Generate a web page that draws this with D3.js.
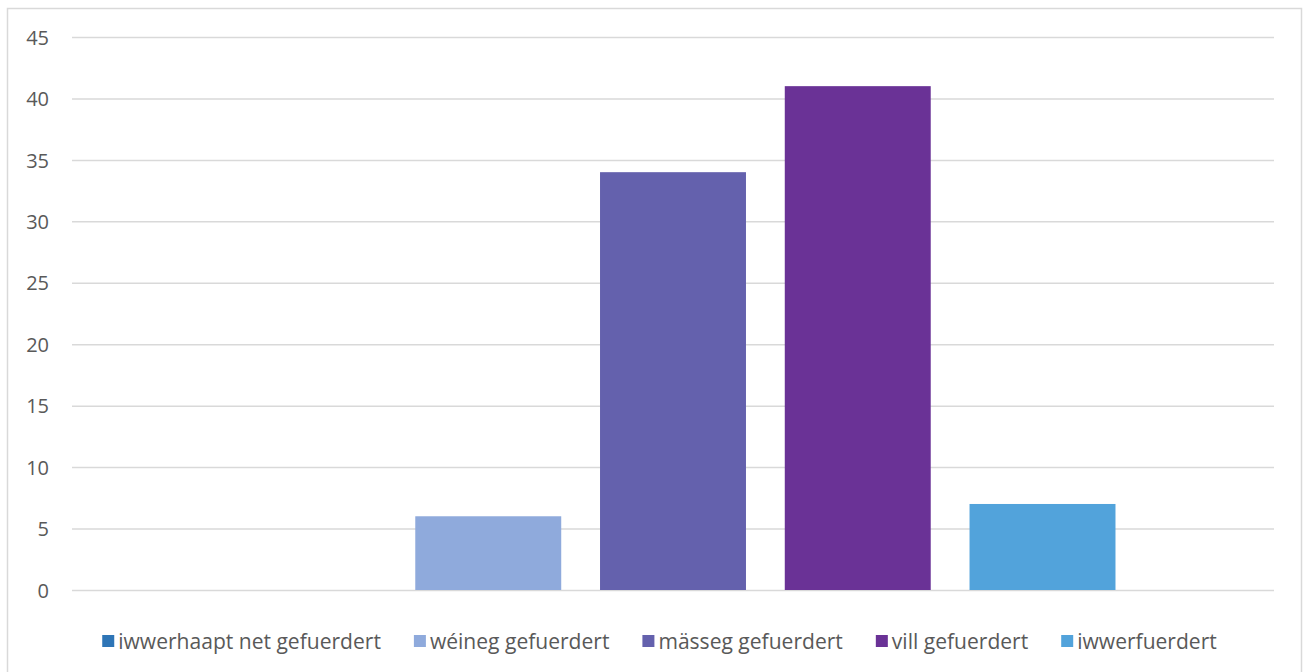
<!DOCTYPE html>
<html>
<head>
<meta charset="utf-8">
<script src="https://cdn.jsdelivr.net/npm/d3@7"></script>
<style>
  html, body { margin: 0; padding: 0; background: #fff; }
  svg { display: block; }
</style>
</head>
<body>
<div id="chart"></div>
<script>
// Data: one category, five series (Excel clustered column).
const seriesNames = ["iwwerhaapt net gefuerdert", "wéineg gefuerdert", "mässeg gefuerdert", "vill gefuerdert", "iwwerfuerdert"];
const seriesValues = [0, 6, 34, 41, 7];
const seriesColors = ["#2E75B6", "#8FAADC", "#6461AD", "#6A3296", "#52A3DB"];
const yTicks = [0, 5, 10, 15, 20, 25, 30, 35, 40, 45];

const W = 1304, H = 672;
const plot = { left: 72, right: 1274, top: 37, bottom: 590 };
const FONT = "'Open Sans', 'Noto Sans', sans-serif";
const TEXT = "#595959";
const GRID = "#D9D9D9";

const svg = d3.select("#chart").append("svg")
    .attr("width", W)
    .attr("height", H);

// Chart area border
svg.append("rect")
    .attr("x", 7.5).attr("y", 8.5)
    .attr("width", 1294).attr("height", 700)
    .attr("fill", "#fff")
    .attr("stroke", GRID)
    .attr("stroke-width", 1.5);

const y = d3.scaleLinear()
    .domain([0, 45])
    .range([plot.bottom, plot.top]);

const x = d3.scaleBand()
    .domain(seriesNames)
    .range([plot.left, plot.right])
    .paddingInner(0.21)
    .paddingOuter(0.858);

// Gridlines + tick labels
const yAxis = d3.axisLeft(y)
    .tickValues(yTicks)
    .tickSize(-(plot.right - plot.left))
    .tickPadding(23);

const gy = svg.append("g")
    .attr("transform", `translate(${plot.left},0)`)
    .call(yAxis);
gy.select(".domain").remove();
gy.selectAll(".tick line")
    .attr("stroke", GRID)
    .attr("stroke-width", 1.5);
gy.selectAll(".tick text")
    .attr("fill", TEXT)
    .attr("font-family", FONT)
    .attr("font-size", "20px")
    .attr("dy", "0.36em");

// Bars
svg.append("g").selectAll("rect")
    .data(seriesNames.map((name, i) => ({ name, value: seriesValues[i], color: seriesColors[i] })))
    .join("rect")
    .attr("x", d => x(d.name))
    .attr("width", x.bandwidth())
    .attr("y", d => y(d.value))
    .attr("height", d => y(0) - y(d.value))
    .attr("fill", d => d.color);

// Legend: measure, then centre under the plot
const legend = svg.append("g");
const items = legend.selectAll("g")
    .data(seriesNames)
    .join("g");
items.append("rect")
    .attr("width", 12).attr("height", 12)
    .attr("y", 635)
    .attr("fill", (d, i) => seriesColors[i]);
const labels = items.append("text")
    .attr("y", 641)
    .attr("dominant-baseline", "central")
    .attr("fill", TEXT)
    .attr("font-family", FONT)
    .attr("font-size", "19px")
    .text(d => d);

// scale font so the total label width matches the reference
const targetText = 903;
let measured = 0;
labels.each(function () { measured += this.getComputedTextLength(); });
const fs = 19 * targetText / measured;
labels.attr("font-size", fs + "px");

const widths = [];
labels.each(function () { widths.push(this.getComputedTextLength()); });
const markerToText = 16, itemGap = 33;
const total = d3.sum(widths) + widths.length * markerToText + (widths.length - 1) * itemGap;
let cx = 659.5 - total / 2;
items.each(function (d, i) {
    d3.select(this).attr("transform", `translate(${cx},0)`);
    d3.select(this).select("text").attr("x", markerToText);
    cx += markerToText + widths[i] + itemGap;
});
</script>
</body>
</html>
